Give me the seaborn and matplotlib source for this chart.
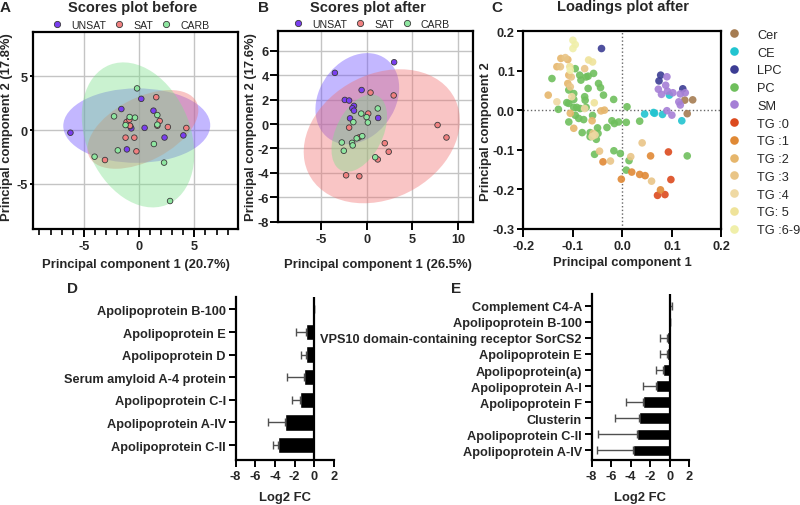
import numpy as np
import pandas as pd
import matplotlib.pyplot as plt
import seaborn as sns
from matplotlib.patches import Ellipse
from matplotlib.lines import Line2D
from matplotlib.ticker import MultipleLocator, FormatStrFormatter

sns.set_theme(style="ticks")
plt.rcParams['font.family'] = ['Liberation Sans', 'DejaVu Sans']
plt.rcParams['axes.unicode_minus'] = False

# ---- data: scores before (panel A) ----
a_unsat_x = [-6.2, 0.2, -1.6, 1.3, -0.7, 0.5, -0.8, 2.3, 4.0, -1.1]
a_unsat_y = [-0.25, 2.9, 1.95, 1.8, 0.15, 0.2, 0.35, -0.7, -0.5, -1.8]
a_sat_x = [1.55, 1.86, 1.65, 2.6, 4.27, -1.13, -0.88, -0.82, -1.22, -0.43, -0.24, -3.08]
a_sat_y = [3.05, 0.84, 0.4, 0.28, 0.19, 0.74, 0.96, 0.4, -0.71, -0.71, -1.98, -2.79]
a_carb_x = [-0.18, -2.26, -0.85, -0.37, 1.65, -1.22, 1.65, 1.34, -1.92, -4.02, 2.26, 2.8]
a_carb_y = [3.87, 1.27, 1.21, 1.15, 1.39, 0.46, 0.5, -1.3, -1.89, -2.48, -3.03, -6.6]

# ---- data: scores after (panel B) ----
b_unsat_x = [-3.45, 3.0, -0.54, -2.37, -1.9, -1.37, -1.55, -1.37, -1.8, 1.26]
b_unsat_y = [4.2, 5.07, 2.79, 1.98, 1.93, 1.49, 1.3, 1.1, 0.47, 0.5]
b_sat_x = [0.43, 2.95, 0.18, -1.9, 7.73, 8.7, 1.98, 2.41, 1.22, -0.83, -2.23, -0.79]
b_sat_y = [2.58, 2.35, 0.86, -0.29, -0.08, -1.1, -1.57, -2.27, -2.9, -1.1, -4.2, -4.28]
b_carb_x = [1.22, -0.58, 0.0, -1.44, 0.14, -0.47, -1.08, -2.7, -1.58, -1.51, -2.48, 0.94]
b_carb_y = [1.28, 0.86, 0.57, 0.16, 0.13, -0.99, -1.17, -1.51, -1.54, -1.75, -2.19, -2.72]

GROUPS = ['UNSAT', 'SAT', 'CARB']
POINT_COLORS = {'UNSAT': '#7a3ef0', 'SAT': '#f08080', 'CARB': '#8ee6a0'}
ELLIPSE_COLORS = {'UNSAT': '#6a4cff', 'SAT': '#f07070', 'CARB': '#7be08a'}

# ---- data: loadings after (panel C) ----
cer_x = [0.126, 0.142, 0.131]
cer_y = [0.0253, 0.026, -0.009]
ce_x = [0.095, 0.045, 0.063, 0.065, 0.081, 0.120]
ce_y = [0.038, -0.010, -0.006, -0.008, -0.011, -0.027]
lpc_x = [-0.042, 0.0774, 0.074, 0.122]
lpc_y = [0.156, 0.0886, 0.074, 0.054]
pc_x = [-0.095, -0.086, -0.142, -0.0835, -0.073, -0.069, -0.058, -0.048, -0.044, -0.069,
        -0.108, -0.098, -0.076, -0.075, -0.038, -0.0175, -0.098, -0.112, -0.092, -0.098,
        -0.085, -0.073, -0.129, -0.108, -0.095, -0.088, -0.078, -0.060, -0.021, -0.016,
        -0.0074, -0.031, -0.108, -0.050, -0.081, -0.065, -0.0525, -0.065, -0.049, 0.008,
        0.035, -0.056, -0.017, -0.004, 0.0135, 0.008, 0.131, 0.0095]
pc_y = [0.105, 0.0886, 0.080, 0.076, 0.084, 0.086, 0.093, 0.0675, 0.057, 0.055,
        0.051, 0.042, 0.034, 0.025, 0.038, 0.027, 0.027, 0.019, 0.007, 0.007,
        0.004, 0.007, 0.002, 0.017, -0.013, -0.021, -0.024, -0.0135, -0.027, -0.034,
        -0.030, -0.044, -0.030, -0.045, -0.057, -0.057, -0.074, -0.0675, -0.059, -0.031,
        -0.028, -0.112, -0.103, -0.110, -0.128, -0.152, -0.116, 0.0084]
sm_x = [0.090, 0.0727, 0.0875, 0.091, 0.079, 0.102, 0.117, 0.127, 0.114, 0.117, 0.090, 0.100]
sm_y = [0.0845, 0.053, 0.063, 0.048, 0.040, 0.044, 0.041, 0.044, 0.021, 0.013, -0.0015, -0.0127]
tg0_x = [0.093, 0.098, 0.071, 0.086]
tg0_y = [-0.106, -0.176, -0.216, -0.214]
tg1_x = [-0.039, 0.057, -0.002, 0.019, 0.035, 0.046, 0.077]
tg1_y = [-0.131, -0.116, -0.175, -0.157, -0.163, -0.166, -0.202]
tg2_x = [-0.124, -0.110, -0.132, -0.108, -0.1495, -0.110, -0.105, -0.043, -0.036, -0.061, -0.098]
tg2_y = [0.131, 0.128, 0.110, 0.0886, 0.038, 0.0675, -0.008, -0.002, 0.000, -0.027, -0.046]
tg3_x = [-0.115, -0.125, -0.103, -0.076, -0.105, -0.059, -0.024, 0.040, 0.059, 0.017, -0.046]
tg3_y = [0.133, 0.110, 0.084, 0.105, 0.059, -0.059, -0.129, -0.083, -0.180, -0.118, -0.104]
tg4_x = [-0.132, -0.102, -0.076, -0.055, -0.061]
tg4_y = [0.021, 0.034, 0.004, -0.063, -0.067]
tg5_x = [-0.068, -0.060, -0.0566, -0.106]
tg5_y = [0.127, 0.122, 0.0186, 0.110]
tg69_x = [-0.0997, -0.095, -0.0997, -0.105]
tg69_y = [0.177, 0.166, 0.156, 0.101]

C_CLASSES = ['Cer', 'CE', 'LPC', 'PC', 'SM', 'TG :0', 'TG :1', 'TG :2', 'TG :3', 'TG :4', 'TG: 5', 'TG :6-9']
C_X = [cer_x, ce_x, lpc_x, pc_x, sm_x, tg0_x, tg1_x, tg2_x, tg3_x, tg4_x, tg5_x, tg69_x]
C_Y = [cer_y, ce_y, lpc_y, pc_y, sm_y, tg0_y, tg1_y, tg2_y, tg3_y, tg4_y, tg5_y, tg69_y]
C_COLORS = ['#a57c52', '#22c4d0', '#3c3d94', '#6fbf5d', '#a57fd6', '#dc4a1e', '#e08935',
            '#e6b66c', '#e9c587', '#efd9a3', '#efe39a', '#f0efaa']

# ---- data: fold changes (panels D, E) ----
d_proteins = ['Apolipoprotein B-100', 'Apolipoprotein E', 'Apolipoprotein D',
              'Serum amyloid A-4 protein', 'Apolipoprotein C-I', 'Apolipoprotein A-IV',
              'Apolipoprotein C-II']
d_log2fc = [0.0, -0.85, -0.85, -1.05, -1.49, -3.02, -3.73]
d_err = [0.0, 0.98, 0.47, 1.76, 0.75, 1.73, 0.47]

e_proteins = ['Complement C4-A', 'Apolipoprotein B-100', 'VPS10 domain-containing receptor SorCS2',
              'Apolipoprotein E', 'Apolipoprotein(a)', 'Apolipoprotein A-I', 'Apolipoprotein F',
              'Clusterin', 'Apolipoprotein C-II', 'Apolipoprotein A-IV']
e_log2fc = [0.02, 0.0, -0.24, -0.24, -0.71, -1.43, -2.73, -3.2, -3.37, -3.78]
e_err = [0.2, 0.0, 0.75, 0.75, 0.68, 1.33, 1.73, 2.38, 4.01, 3.7]

CHI2_95 = 5.991
TICK_SIZE = 9.2
LABEL_FONT = dict(fontsize=9.4, fontweight='bold')


def conf_ellipse(ax, x, y, color):
    cov = np.cov(x, y)
    vals, vecs = np.linalg.eigh(cov)
    order = vals.argsort()[::-1]
    vals, vecs = vals[order], vecs[:, order]
    angle = np.degrees(np.arctan2(vecs[1, 0], vecs[0, 0]))
    w, h = 2 * np.sqrt(CHI2_95 * vals)
    ax.add_patch(Ellipse((np.mean(x), np.mean(y)), w, h, angle=angle,
                         facecolor=color, alpha=0.4, edgecolor='none', zorder=1))


def style_box(ax, ylen=6, ypad=1):
    for s in ax.spines.values():
        s.set_linewidth(1.6)
        s.set_color('black')
    ax.tick_params(axis='x', width=1.4, length=6, color='black', pad=2)
    ax.tick_params(axis='y', width=1.4, length=ylen, color='black', pad=ypad)
    for lab in ax.get_xticklabels() + ax.get_yticklabels():
        lab.set_fontsize(TICK_SIZE)
        lab.set_fontweight('bold')


def plot_scores(ax, xs, ys, xlim, ylim, xticks, yticks, xlabel, ylabel, xlab_pos, ylab_pos,
                minor=False, ylen=6):
    frames = []
    for g, x, y in zip(GROUPS, xs, ys):
        conf_ellipse(ax, x, y, ELLIPSE_COLORS[g])
        frames.append(pd.DataFrame({'pc1': x, 'pc2': y, 'group': g}))
    df = pd.concat(frames)
    sns.scatterplot(data=df, x='pc1', y='pc2', hue='group', hue_order=GROUPS, palette=POINT_COLORS,
                    s=16, edgecolor='#3a3a3a', linewidth=0.6, ax=ax, zorder=3, legend=False)
    ax.set_xlim(*xlim)
    ax.set_ylim(*ylim)
    ax.set_xticks(xticks)
    ax.set_yticks(yticks)
    if minor:
        ax.xaxis.set_minor_locator(MultipleLocator(1))
        ax.tick_params(axis='x', which='minor', length=4, width=1.2, color='black')
    ax.grid(True, which='major', color='#c4c4c4', linewidth=1.0)
    ax.set_axisbelow(True)
    style_box(ax, ylen=ylen)
    ax.set_xlabel(xlabel, va='center', **LABEL_FONT)
    ax.set_ylabel(ylabel, va='center', **LABEL_FONT)
    ax.xaxis.set_label_coords(*xlab_pos)
    ax.yaxis.set_label_coords(*ylab_pos)
    handles = [Line2D([], [], marker='o', linestyle='none', markersize=4.5,
                      markerfacecolor=POINT_COLORS[g], markeredgecolor='#3a3a3a',
                      markeredgewidth=0.6) for g in GROUPS]
    ax.legend(handles, GROUPS, loc='lower center', bbox_to_anchor=(0.48, 1.012), ncol=3,
              frameon=False, fontsize=7.6, borderaxespad=0, borderpad=0,
              handlelength=0.8, handletextpad=0.95, columnspacing=0.8)


def plot_fc(ax, proteins, values, errs, ylim, xlab_y):
    df = pd.DataFrame({'protein': proteins, 'log2fc': values})
    sns.barplot(data=df, x='log2fc', y='protein', orient='h', color='black',
                saturation=1, width=0.72, ax=ax)
    lower = [e if v < 0 else 0 for v, e in zip(values, errs)]
    upper = [e if v >= 0 else 0 for v, e in zip(values, errs)]
    ax.errorbar(values, np.arange(len(values)), xerr=[lower, upper], fmt='none',
                ecolor='#505050', elinewidth=1.0, capsize=3, capthick=1.0, zorder=1)
    ax.axvline(0, color='black', linewidth=1.6, zorder=4)
    ax.set_xlim(-8, 2)
    ax.set_xticks([-8, -6, -4, -2, 0, 2])
    ax.set_ylim(*ylim)
    sns.despine(ax=ax)
    for s in ('left', 'bottom'):
        ax.spines[s].set_linewidth(1.6)
        ax.spines[s].set_color('black')
    ax.tick_params(width=1.4, length=5, color='black', pad=2)
    for lab in ax.get_xticklabels() + ax.get_yticklabels():
        lab.set_fontsize(TICK_SIZE)
        lab.set_fontweight('bold')
    ax.set_ylabel('')
    ax.set_xlabel('Log2 FC', va='center', **LABEL_FONT)
    ax.xaxis.set_label_coords(0.5, xlab_y)


fig = plt.figure(figsize=(8, 5.06), dpi=100)

ax_a = fig.add_axes([0.041, 0.5455, 0.256, 0.389])
plot_scores(ax_a, [a_unsat_x, a_sat_x, a_carb_x], [a_unsat_y, a_sat_y, a_carb_y],
            (-9.6, 8.9), (-9.2, 9.1), [-5, 0, 5], [-5, 0, 5],
            'Principal component 1 (20.7%)', 'Principal component 2 (17.8%)',
            (0.504, -0.178), (-0.128, 0.52), minor=True, ylen=2.5)

ax_b = fig.add_axes([0.348, 0.56, 0.2434, 0.376])
plot_scores(ax_b, [b_unsat_x, b_sat_x, b_carb_x], [b_unsat_y, b_sat_y, b_carb_y],
            (-9.6, 11.6), (-8, 7.6), [-5, 0, 5, 10], [-8, -6, -4, -2, 0, 2, 4, 6],
            'Principal component 1 (26.5%)', 'Principal component 2 (17.6%)',
            (0.512, -0.222), (-0.142, 0.503))

ax_c = fig.add_axes([0.654, 0.5464, 0.2478, 0.39])
c_df = pd.concat([pd.DataFrame({'pc1': x, 'pc2': y, 'cls': name})
                  for name, x, y in zip(C_CLASSES, C_X, C_Y)])
sns.scatterplot(data=c_df, x='pc1', y='pc2', hue='cls', hue_order=C_CLASSES,
                palette=dict(zip(C_CLASSES, C_COLORS)), s=30, edgecolor='none',
                alpha=0.9, ax=ax_c, legend=False, zorder=3)
ax_c.axhline(0, color='#666666', linestyle=':', linewidth=1.0, zorder=1)
ax_c.axvline(0, color='#666666', linestyle=':', linewidth=1.0, zorder=1)
ax_c.set_xlim(-0.2, 0.2)
ax_c.set_ylim(-0.3, 0.2)
ax_c.set_xticks([-0.2, -0.1, 0.0, 0.1, 0.2])
ax_c.set_yticks([-0.3, -0.2, -0.1, 0.0, 0.1, 0.2])
ax_c.xaxis.set_major_formatter(FormatStrFormatter('%.1f'))
ax_c.yaxis.set_major_formatter(FormatStrFormatter('%.1f'))
style_box(ax_c, ylen=4.5, ypad=1.5)
ax_c.set_xlabel('Principal component 1', va='center', **LABEL_FONT)
ax_c.set_ylabel('Principal component 2', va='center', **LABEL_FONT)
ax_c.xaxis.set_label_coords(0.498, -0.17)
ax_c.yaxis.set_label_coords(-0.19, 0.496)
c_handles = [Line2D([], [], marker='o', linestyle='none', markersize=6.2,
                    markerfacecolor=c, markeredgecolor='none') for c in C_COLORS]
ax_c.legend(c_handles, C_CLASSES, loc='center left', bbox_to_anchor=(1.0, 0.487),
            frameon=False, fontsize=9.2, borderaxespad=0, borderpad=0,
            handlelength=2.0, handletextpad=0.8, labelspacing=0.45)

ax_d = fig.add_axes([0.2946, 0.0889, 0.1229, 0.3227])
plot_fc(ax_d, d_proteins, d_log2fc, d_err, (len(d_proteins) - 1 + 0.66, -0.56), -0.227)

ax_e = fig.add_axes([0.7396, 0.0889, 0.122, 0.328])
plot_fc(ax_e, e_proteins, e_log2fc, e_err, (len(e_proteins) - 1 + 0.6, -0.73), -0.223)

# titles and panel letters
fig.text(132.5 / 800, 1 - 8 / 506, 'Scores plot before', ha='center', va='center',
         fontsize=10.5, fontweight='bold')
fig.text(367.5 / 800, 1 - 8 / 506, 'Scores plot after', ha='center', va='center',
         fontsize=10.5, fontweight='bold')
fig.text(623 / 800, 1 - 7.5 / 506, 'Loadings plot after', ha='center', va='center',
         fontsize=10.5, fontweight='bold')
for letter, (px, py) in zip('ABCDE', [(5.5, 8), (263.5, 8), (496.5, 8), (73, 289), (456, 289)]):
    fig.text(px / 800, 1 - py / 506, letter, ha='center', va='center',
             fontsize=11, fontweight='bold')

fig.savefig('out.png', dpi=100)
